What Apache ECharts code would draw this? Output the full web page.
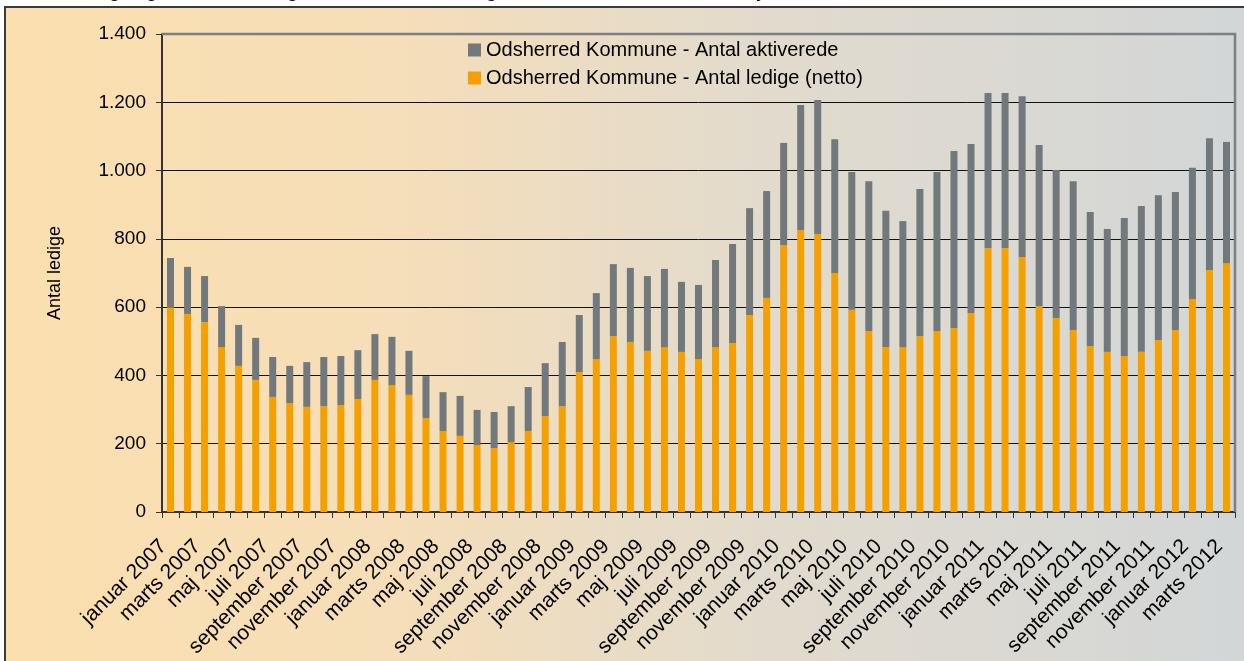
<!DOCTYPE html>
<html>
<head>
<meta charset="utf-8">
<script src="https://cdn.jsdelivr.net/npm/echarts@6/dist/echarts.min.js"></script>
<style>
  html, body { margin: 0; padding: 0; background: #fff; }
  #chart { width: 1244px; height: 661px; }
</style>
</head>
<body>
<div id="chart"></div>
<script>
// maanedsnavne og aar -> kategorier januar 2007 .. marts 2012
var maaneder = ['januar', 'februar', 'marts', 'april', 'maj', 'juni', 'juli',
    'august', 'september', 'oktober', 'november', 'december'];
var aar = [2007, 2008, 2009, 2010, 2011, 2012];
var antalMaanederSidsteAar = 3;

var kategorier = [];
aar.forEach(function(a, i) {
    var n = (i === aar.length - 1) ? antalMaanederSidsteAar : 12;
    for (var m = 0; m < n; m++) {
        kategorier.push(maaneder[m] + ' ' + a);
    }
});

// Odsherred Kommune - Antal ledige (netto)
var ledigeNetto = [
    600, 580, 556, 483, 428, 387, 337, 319, 308, 310, 313, 331,
    387, 372, 343, 275, 237, 223, 196, 187, 205, 237, 281, 310,
    410, 448, 515, 498, 472, 483, 469, 448, 483, 495, 577, 627,
    782, 826, 814, 700, 592, 530, 483, 483, 515, 530, 539, 583,
    773, 773, 747, 603, 568, 533, 486, 469, 457, 469, 504, 533,
    624, 709, 729
];

// Odsherred Kommune - Antal aktiverede
var aktiverede = [
    144, 138, 135, 120, 120, 123, 117, 109, 131, 144, 144, 143,
    134, 141, 129, 123, 114, 117, 103, 106, 105, 129, 155, 188,
    167, 193, 211, 217, 219, 229, 205, 217, 255, 290, 313, 313,
    299, 366, 393, 392, 404, 439, 399, 369, 431, 466, 518, 495,
    454, 454, 471, 472, 434, 436, 393, 360, 404, 427, 424, 404,
    384, 386, 355
];

var yTicks = { min: 0, max: 1400, interval: 200 };

var navnAktiverede = 'Odsherred Kommune - Antal aktiverede';
var navnLedige = 'Odsherred Kommune - Antal ledige (netto)';
var titel = 'Ledige og aktiverede ledige i alt, heraf bruttoledige i hele Odsherred Kommune, januar 2007 - marts 2012';

var FONT = '"Liberation Sans", Arial, sans-serif';

function tusind(v) {
    return String(v).replace(/\B(?=(\d{3})+(?!\d))/g, '.');
}

var chart = echarts.init(document.getElementById('chart'));

chart.setOption({
    animation: false,
    backgroundColor: '#ffffff',
    textStyle: { fontFamily: FONT },
    graphic: [
        {
            id: 'baggrund',
            type: 'rect',
            z: -100,
            silent: true,
            shape: { x: 5, y: 7, width: 1260, height: 700 },
            style: {
                fill: new echarts.graphic.LinearGradient(0, 0, 1, 0, [
                    { offset: 0, color: '#fbdfaf' },
                    { offset: 0.3, color: '#f6deb8' },
                    { offset: 0.6, color: '#e2dbcd' },
                    { offset: 1, color: '#d2d6d8' }
                ]),
                stroke: '#3a3a3a',
                lineWidth: 2
            }
        },
        {
            id: 'titel',
            type: 'text',
            silent: true,
            x: 72,
            y: 1,
            style: {
                text: titel,
                font: 'bold 18px ' + FONT,
                fill: '#000',
                verticalAlign: 'bottom'
            }
        }
    ],
    legend: {
        orient: 'vertical',
        left: 463,
        top: 35,
        itemWidth: 13,
        itemHeight: 13,
        itemGap: 8,
        icon: 'rect',
        data: [navnAktiverede, navnLedige],
        textStyle: { fontSize: 20, color: '#000', fontFamily: FONT }
    },
    grid: {
        left: 162,
        right: 9,
        top: 34,
        bottom: 149,
        containLabel: false
    },
    xAxis: {
        type: 'category',
        data: kategorier,
        boundaryGap: true,
        axisLine: { lineStyle: { color: '#333', width: 2 } },
        axisTick: {
            show: true,
            alignWithLabel: false,
            interval: 0,
            length: 6,
            lineStyle: { color: '#333' }
        },
        axisLabel: {
            interval: 1,
            rotate: 45,
            margin: 24,
            padding: [0, 10, 0, 0],
            fontSize: 21,
            color: '#000',
            fontFamily: FONT
        }
    },
    yAxis: {
        type: 'value',
        min: yTicks.min,
        max: yTicks.max,
        interval: yTicks.interval,
        name: 'Antal ledige',
        nameLocation: 'middle',
        nameGap: 98,
        nameTextStyle: { fontSize: 18, color: '#000', fontFamily: FONT },
        axisLine: { show: true, lineStyle: { color: '#333', width: 2 } },
        axisTick: { show: true, length: 6, lineStyle: { color: '#333' } },
        axisLabel: {
            margin: 16,
            fontSize: 19,
            color: '#000',
            fontFamily: FONT,
            formatter: tusind
        },
        splitLine: {
            show: true,
            lineStyle: {
                color: ['#111', '#111', '#111', '#111', '#111', '#111', '#111', '#7b8084'],
                width: 1
            }
        }
    },
    series: [
        {
            name: navnLedige,
            type: 'bar',
            stack: 'i alt',
            barWidth: 7,
            itemStyle: { color: '#f4a000' },
            data: ledigeNetto
        },
        {
            name: navnAktiverede,
            type: 'bar',
            stack: 'i alt',
            barWidth: 7,
            itemStyle: { color: '#72797d' },
            data: aktiverede
        }
    ]
});

// graa ramme oeverst og til hoejre om plotomraadet
var pTop = chart.convertToPixel({ seriesIndex: 0 }, [0, yTicks.max]);
var pBund = chart.convertToPixel({ seriesIndex: 0 }, [0, yTicks.min]);
var gridRect = chart.getModel().getComponent('grid', 0).coordinateSystem.getRect();
chart.setOption({
    graphic: [
        {
            id: 'ramme',
            type: 'polyline',
            silent: true,
            z: 5,
            shape: {
                points: [
                    [gridRect.x, pTop[1]],
                    [gridRect.x + gridRect.width, pTop[1]],
                    [gridRect.x + gridRect.width, pBund[1]]
                ]
            },
            style: { stroke: '#7b8084', lineWidth: 2.5, fill: null }
        }
    ]
});
</script>
</body>
</html>
